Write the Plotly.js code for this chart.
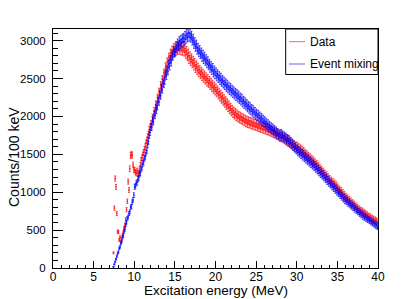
<!DOCTYPE html>
<html>
<head>
<meta charset="utf-8">
<script src="https://cdn.plot.ly/plotly-3.0.1.min.js"></script>
<style>html,body{margin:0;padding:0;background:#fff;}#chart{width:415px;height:299px;}</style>
</head>
<body>
<div id="chart"></div>
<script>
// Histogram binning: 100 keV bins, first bin centre at 7.45 MeV
const firstBinCentre = 7.45;
const binWidth = 0.1;

// Data (red), counts per 100 keV bin, 7.45 ... 39.95 MeV
const dataCounts = [
  200, 790, 1180, 1070, 720, 480,
  475, 370, 405, 350, 380, 432, 468, 525, 565, 640,
  770, 880, 1140, 1030, 1310, 1485, 1500, 1490, 1360, 1300,
  1290, 1265, 1250, 1280, 1255, 1245, 1300, 1355, 1420, 1455,
  1490, 1525, 1565, 1600, 1648, 1685, 1728, 1765, 1825, 1858,
  1905, 1890, 1985, 1968, 2072, 2050, 2160, 2138, 2245, 2232,
  2325, 2310, 2412, 2392, 2490, 2470, 2575, 2548, 2655, 2628,
  2720, 2695, 2782, 2748, 2835, 2790, 2872, 2830, 2905, 2850,
  2915, 2862, 2928, 2872, 2940, 2878, 2935, 2868, 2930, 2860,
  2922, 2850, 2898, 2815, 2868, 2788, 2835, 2752, 2800, 2722,
  2772, 2698, 2742, 2665, 2712, 2632, 2682, 2605, 2652, 2575,
  2620, 2550, 2598, 2525, 2572, 2500, 2548, 2478, 2525, 2452,
  2500, 2430, 2478, 2405, 2452, 2380, 2430, 2355, 2405, 2332,
  2380, 2308, 2352, 2280, 2325, 2250, 2298, 2222, 2268, 2195,
  2240, 2168, 2212, 2140, 2185, 2110, 2158, 2082, 2128, 2055,
  2100, 2032, 2078, 2010, 2058, 1990, 2040, 1975, 2022, 1958,
  2010, 1948, 1995, 1935, 1985, 1922, 1972, 1910, 1960, 1898,
  1950, 1892, 1942, 1882, 1935, 1875, 1925, 1868, 1918, 1860,
  1910, 1852, 1902, 1842, 1895, 1835, 1885, 1828, 1878, 1820,
  1870, 1812, 1862, 1802, 1852, 1795, 1842, 1785, 1832, 1775,
  1822, 1765, 1812, 1752, 1802, 1742, 1790, 1730, 1778, 1718,
  1765, 1705, 1752, 1692, 1740, 1678, 1722, 1662, 1708, 1645,
  1692, 1630, 1675, 1612, 1660, 1598, 1642, 1578, 1622, 1570,
  1618, 1558, 1600, 1540, 1585, 1525, 1568, 1508, 1552, 1492,
  1528, 1465, 1508, 1448, 1488, 1425, 1468, 1405, 1445, 1385,
  1428, 1365, 1402, 1340, 1380, 1318, 1355, 1292, 1330, 1270,
  1305, 1245, 1282, 1222, 1258, 1198, 1235, 1175, 1210, 1150,
  1185, 1128, 1165, 1108, 1145, 1088, 1125, 1068, 1105, 1048,
  1075, 1015, 1050, 992, 1028, 968, 1002, 945, 980, 920,
  955, 900, 935, 878, 912, 858, 892, 838, 872, 820,
  855, 800, 832, 778, 812, 758, 792, 740, 775, 725,
  765, 712, 748, 695, 732, 680, 715, 665, 698, 650,
  688, 635, 672, 622, 660, 612, 648, 600, 635, 590
];

// Event mixing (blue), counts per 100 keV bin, 7.45 ... 39.95 MeV
const mixingCounts = [
  15, 48, 82, 115, 152, 188,
  212, 258, 278, 322, 348, 402, 425, 482, 510, 572,
  605, 655, 672, 720, 738, 800, 812, 870, 898, 962,
  1070, 1085, 1118, 1130, 1172, 1190, 1240, 1255, 1305, 1328,
  1380, 1398, 1450, 1468, 1520, 1552, 1625, 1675, 1752, 1790,
  1862, 1858, 1955, 1930, 2028, 2015, 2110, 2082, 2140, 2210,
  2195, 2290, 2275, 2372, 2355, 2445, 2430, 2475, 2560, 2538,
  2612, 2598, 2690, 2665, 2752, 2718, 2810, 2795, 2872, 2838,
  2850, 2935, 2895, 2968, 2920, 2998, 2948, 3015, 2970, 3030,
  3042, 2988, 3068, 3020, 3092, 3038, 3110, 3050, 3098, 3035,
  3070, 2998, 3030, 2952, 2985, 2915, 2952, 2875, 2910, 2842,
  2882, 2818, 2850, 2780, 2822, 2752, 2795, 2728, 2762, 2695,
  2735, 2668, 2702, 2635, 2672, 2605, 2648, 2572, 2615, 2548,
  2590, 2520, 2565, 2498, 2540, 2472, 2520, 2448, 2492, 2425,
  2470, 2405, 2448, 2380, 2428, 2360, 2402, 2338, 2385, 2318,
  2362, 2300, 2342, 2278, 2322, 2258, 2305, 2238, 2285, 2220,
  2262, 2198, 2245, 2172, 2218, 2152, 2198, 2132, 2175, 2108,
  2152, 2088, 2135, 2068, 2112, 2048, 2095, 2028, 2072, 2008,
  2052, 1988, 2035, 1968, 2012, 1948, 1995, 1928, 1972, 1908,
  1952, 1890, 1932, 1868, 1912, 1848, 1892, 1830, 1872, 1810,
  1858, 1795, 1838, 1772, 1818, 1752, 1798, 1735, 1778, 1715,
  1785, 1722, 1768, 1708, 1752, 1692, 1738, 1675, 1720, 1660,
  1705, 1640, 1682, 1615, 1658, 1592, 1635, 1568, 1610, 1545,
  1585, 1522, 1565, 1502, 1545, 1482, 1525, 1462, 1505, 1442,
  1485, 1422, 1465, 1402, 1445, 1382, 1425, 1362, 1405, 1342,
  1385, 1322, 1365, 1300, 1340, 1278, 1318, 1252, 1292, 1230,
  1270, 1208, 1248, 1185, 1222, 1160, 1198, 1136, 1175, 1112,
  1150, 1090, 1128, 1065, 1102, 1042, 1080, 1018, 1055, 995,
  1032, 972, 1008, 948, 985, 925, 960, 900, 935, 878,
  918, 862, 898, 842, 878, 822, 858, 802, 838, 785,
  820, 765, 800, 745, 780, 728, 760, 708, 740, 690,
  722, 670, 705, 655, 690, 640, 672, 625, 655, 610,
  640, 592, 625, 578, 608, 562, 592, 545, 575, 530
];

const seriesNames = ["Data", "Event mixing"];
const seriesColors = ["#ff0000", "#0000ff"];
const xTickVals = [0, 5, 10, 15, 20, 25, 30, 35, 40];
const yTickVals = [0, 500, 1000, 1500, 2000, 2500, 3000];

// layout geometry (pixels)
const W = 415, H = 299;
const M = {l: 53, r: 37, t: 29, b: 31};
const PW = W - M.l - M.r, PH = H - M.t - M.b;
const px = x => (x - M.l) / PW;
const py = y => (H - M.b - y) / PH;

function histTrace(counts, name, color) {
  return {
    type: 'scatter', mode: 'markers', name: name,
    y: counts, x0: firstBinCentre, dx: binWidth,
    marker: {color: color, size: 1.5, symbol: 'square'},
    opacity: 0.9,
    error_y: {type: 'sqrt', visible: true, color: color, thickness: 0.8, width: 1},
    showlegend: false, hoverinfo: 'skip'
  };
}

const traces = [
  histTrace(dataCounts, seriesNames[0], seriesColors[0]),
  histTrace(mixingCounts, seriesNames[1], seriesColors[1])
];

const font = 'Liberation Sans, Arial, Helvetica, sans-serif';
const legLineY = [41.7, 64];
const shapes = [
  {type: 'rect', xref: 'paper', yref: 'paper', x0: px(285.7), x1: 1, y0: py(74.5), y1: 1,
   line: {color: '#000', width: 1}, fillcolor: '#fff', layer: 'above'}
];
const annotations = [
  {xref: 'paper', yref: 'paper', x: px(216), y: py(298.5), text: 'Excitation energy (MeV)',
   showarrow: false, xanchor: 'center', yanchor: 'bottom', borderpad: 0,
   font: {family: font, size: 13.5, color: '#000'}},
  {xref: 'paper', yref: 'paper', x: px(14), y: py(157), text: 'Counts/100 keV', textangle: -90,
   showarrow: false, xanchor: 'center', yanchor: 'middle', font: {family: font, size: 14, color: '#000'}}
];
seriesNames.forEach((n, i) => {
  shapes.push({type: 'line', xref: 'paper', yref: 'paper', x0: px(289), x1: px(305),
    y0: py(legLineY[i]), y1: py(legLineY[i]), line: {color: seriesColors[i], width: 1}, opacity: 0.6, layer: 'above'});
  annotations.push({xref: 'paper', yref: 'paper', x: px(308.3), y: py(legLineY[i]), text: n,
    showarrow: false, xanchor: 'left', yanchor: 'middle', font: {family: font, size: 12, color: '#000'}});
});

const layout = {
  width: W, height: H,
  margin: M,
  paper_bgcolor: '#fff', plot_bgcolor: '#fff',
  font: {family: font, color: '#000'},
  showlegend: false,
  xaxis: {
    range: [0, 40], tickvals: xTickVals, ticks: 'inside', ticklen: 7, tickcolor: '#000',
    showline: true, mirror: true, linecolor: '#000', linewidth: 1,
    showgrid: false, zeroline: false, tickfont: {size: 12, family: font},
    ticklabelstandoff: -2,
    minor: {ticks: 'inside', ticklen: 3.5, dtick: 1, tickcolor: '#000', showgrid: false}
  },
  yaxis: {
    range: [0, 3154], tickvals: yTickVals, ticks: 'inside', ticklen: 10, tickcolor: '#000',
    showline: true, mirror: true, linecolor: '#000', linewidth: 1,
    showgrid: false, zeroline: false, tickfont: {size: 11.5, family: font},
    ticklabelstandoff: 4,
    minor: {ticks: 'inside', ticklen: 5, dtick: 100, tickcolor: '#000', showgrid: false}
  },
  shapes: shapes,
  annotations: annotations
};

Plotly.newPlot('chart', traces, layout, {staticPlot: true, displayModeBar: false});
</script>
</body>
</html>
